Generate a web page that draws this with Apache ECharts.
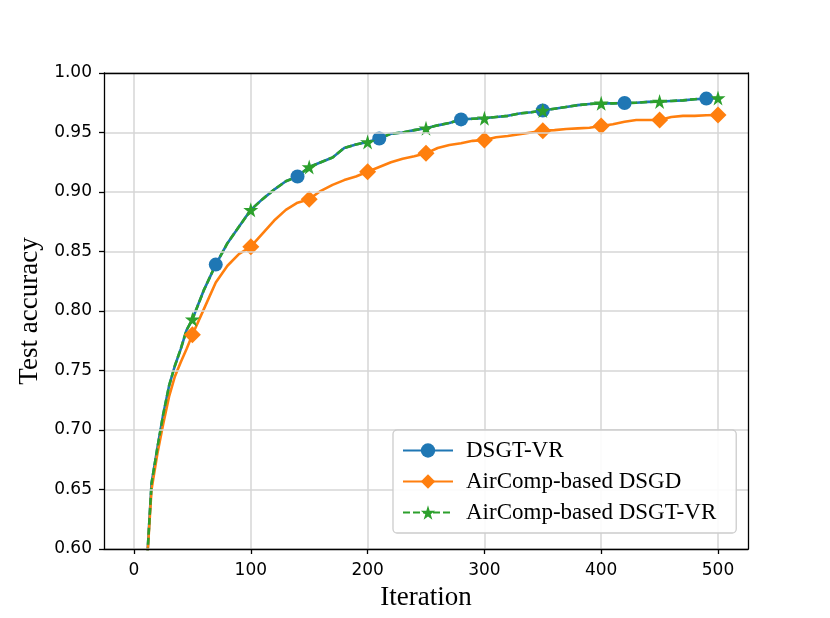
<!DOCTYPE html>
<html>
<head>
<meta charset="utf-8">
<script src="https://cdn.jsdelivr.net/npm/echarts@6/dist/echarts.min.js"></script>
<style>
  html, body { margin: 0; padding: 0; background: #fff; }
  #chart { width: 830px; height: 618px; }
</style>
</head>
<body>
<div id="chart"></div>
<script>
// iterations
var iters = [10, 15, 20, 25, 30, 35, 40, 45, 50, 60, 70, 80, 90, 100, 110, 120, 130, 140, 150,
  160, 170, 180, 190, 200, 210, 220, 230, 240, 250, 260, 270, 280, 290, 300, 310, 320, 330, 340, 350,
  360, 370, 380, 390, 400, 410, 420, 430, 440, 450, 460, 470, 480, 490, 500];

var dsgtVr = [0.57, 0.655, 0.685, 0.713, 0.737, 0.754, 0.768, 0.784, 0.793, 0.818, 0.839, 0.857, 0.871, 0.885, 0.894, 0.902, 0.909, 0.913, 0.921,
  0.925, 0.929, 0.937, 0.940, 0.942, 0.945, 0.949, 0.950, 0.952, 0.9535, 0.956, 0.958, 0.961, 0.9615, 0.962, 0.963, 0.964, 0.966, 0.967, 0.9685,
  0.970, 0.9715, 0.973, 0.974, 0.9745, 0.9745, 0.9748, 0.975, 0.9757, 0.976, 0.9765, 0.977, 0.978, 0.9785, 0.979];

var airDsgd = [0.57, 0.650, 0.680, 0.705, 0.728, 0.745, 0.757, 0.768, 0.780, 0.802, 0.824, 0.838, 0.848, 0.854, 0.865, 0.876, 0.885, 0.891, 0.894,
  0.901, 0.906, 0.910, 0.913, 0.917, 0.921, 0.925, 0.928, 0.930, 0.9325, 0.937, 0.9395, 0.941, 0.943, 0.9437, 0.946, 0.947, 0.9485, 0.950, 0.9515,
  0.952, 0.953, 0.9535, 0.954, 0.9555, 0.957, 0.959, 0.9605, 0.9605, 0.9605, 0.963, 0.964, 0.964, 0.9645, 0.9647];

var airDsgtVr = [0.57, 0.655, 0.685, 0.713, 0.737, 0.754, 0.768, 0.784, 0.793, 0.818, 0.839, 0.857, 0.871, 0.885, 0.894, 0.902, 0.909, 0.913, 0.921,
  0.925, 0.929, 0.937, 0.940, 0.942, 0.945, 0.949, 0.950, 0.952, 0.9535, 0.956, 0.958, 0.961, 0.9615, 0.962, 0.963, 0.964, 0.966, 0.967, 0.9685,
  0.970, 0.9715, 0.973, 0.974, 0.9745, 0.9745, 0.9748, 0.975, 0.9757, 0.976, 0.9765, 0.977, 0.978, 0.9785, 0.979];

// where each curve carries a marker
var marksDsgtVr = [70, 140, 210, 280, 350, 420, 490];
var marksDsgd = [50, 100, 150, 200, 250, 300, 350, 400, 450, 500];
var marksAirVr = [50, 100, 150, 200, 250, 300, 350, 400, 450, 500];

var seriesNames = ['DSGT-VR', 'AirComp-based DSGD', 'AirComp-based DSGT-VR'];

var STAR = 'path://M50,0 L61,35 L98,35 L68,57 L79,91 L50,70 L21,91 L32,57 L2,35 L39,35 Z';

function pts(ys, marks) {
    return iters.map(function (x, i) {
        var p = { value: [x, ys[i]] };
        if (marks.indexOf(x) < 0) p.symbol = 'none';
        return p;
    });
}

var chart = echarts.init(document.getElementById('chart'));
var tickFont = { fontFamily: 'DejaVu Sans', fontSize: 17, color: '#000' };
var serif = 'Liberation Serif';
var frameLine = { show: true, onZero: false, lineStyle: { color: '#000', width: 1.3 } };
var tickStyle = { show: true, inside: false, length: 5, lineStyle: { color: '#000', width: 1.3 } };
var gridLine = { show: true, lineStyle: { color: '#d6d6d6', width: 1.5 } };

chart.setOption({
    backgroundColor: '#fff',
    animation: false,
    grid: [
        // full frame, -25..525
        { left: 104, right: 82, top: 73, bottom: 69 },
        // data span 0..500
        { left: 134, right: 112, top: 73, bottom: 69 }
    ],
    xAxis: [
        {
            gridIndex: 0, type: 'value', min: -25, max: 525, position: 'bottom', z: 5,
            axisLine: frameLine, axisTick: { show: false }, axisLabel: { show: false }, splitLine: { show: false },
            name: 'Iteration', nameLocation: 'middle', nameGap: 35,
            nameTextStyle: { fontFamily: serif, fontSize: 27, color: '#000' }
        },
        {
            gridIndex: 0, type: 'value', min: -25, max: 525, position: 'top', z: 5,
            axisLine: frameLine, axisTick: { show: false }, axisLabel: { show: false }, splitLine: { show: false }
        },
        {
            gridIndex: 1, type: 'value', min: 0, max: 500, interval: 100,
            axisLine: { show: false },
            axisTick: tickStyle,
            axisLabel: Object.assign({ margin: 13 }, tickFont),
            splitLine: gridLine
        }
    ],
    yAxis: [
        {
            gridIndex: 0, type: 'value', min: 0.6, max: 1.0, interval: 0.05, position: 'left', z: 5,
            axisLine: frameLine,
            axisTick: tickStyle,
            axisLabel: Object.assign({ margin: 12, formatter: function (v) { return v.toFixed(2); } }, tickFont),
            splitLine: gridLine,
            name: 'Test accuracy', nameLocation: 'middle', nameGap: 60, nameRotate: 90,
            nameTextStyle: { fontFamily: serif, fontSize: 27, color: '#000' }
        },
        {
            gridIndex: 0, type: 'value', min: 0.6, max: 1.0, position: 'right', z: 5,
            axisLine: frameLine, axisTick: { show: false }, axisLabel: { show: false }, splitLine: { show: false }
        },
        {
            gridIndex: 1, type: 'value', min: 0.6, max: 1.0, show: false, splitLine: { show: false }
        }
    ],
    legend: {
        left: 393, top: 430, z: 20,
        orient: 'vertical',
        itemWidth: 50, itemHeight: 18, itemGap: 8,
        padding: [9, 20, 9, 9],
        borderColor: '#cccccc', borderWidth: 1.3, borderRadius: 4,
        backgroundColor: 'rgba(255,255,255,0.9)',
        textStyle: { fontFamily: serif, fontSize: 23, color: '#000', padding: [0, 0, 0, 8] },
        data: seriesNames
    },
    series: [
        {
            name: seriesNames[0], type: 'line', xAxisIndex: 2, yAxisIndex: 2,
            data: pts(dsgtVr, marksDsgtVr),
            symbol: 'circle', symbolSize: 14, showAllSymbol: true,
            color: '#1f77b4',
            lineStyle: { width: 2.6, color: '#1f77b4' },
            itemStyle: { color: '#1f77b4' }
        },
        {
            name: seriesNames[1], type: 'line', xAxisIndex: 2, yAxisIndex: 2,
            data: pts(airDsgd, marksDsgd),
            symbol: 'diamond', symbolSize: [17, 17], showAllSymbol: true,
            color: '#ff7f0e',
            lineStyle: { width: 2.6, color: '#ff7f0e' },
            itemStyle: { color: '#ff7f0e' }
        },
        {
            name: seriesNames[2], type: 'line', xAxisIndex: 2, yAxisIndex: 2,
            data: pts(airDsgtVr, marksAirVr),
            symbol: STAR, symbolSize: 15, showAllSymbol: true,
            color: '#2ca02c',
            lineStyle: { width: 2.6, color: '#2ca02c', type: [7, 3] },
            itemStyle: { color: '#2ca02c' }
        }
    ]
});
</script>
</body>
</html>
